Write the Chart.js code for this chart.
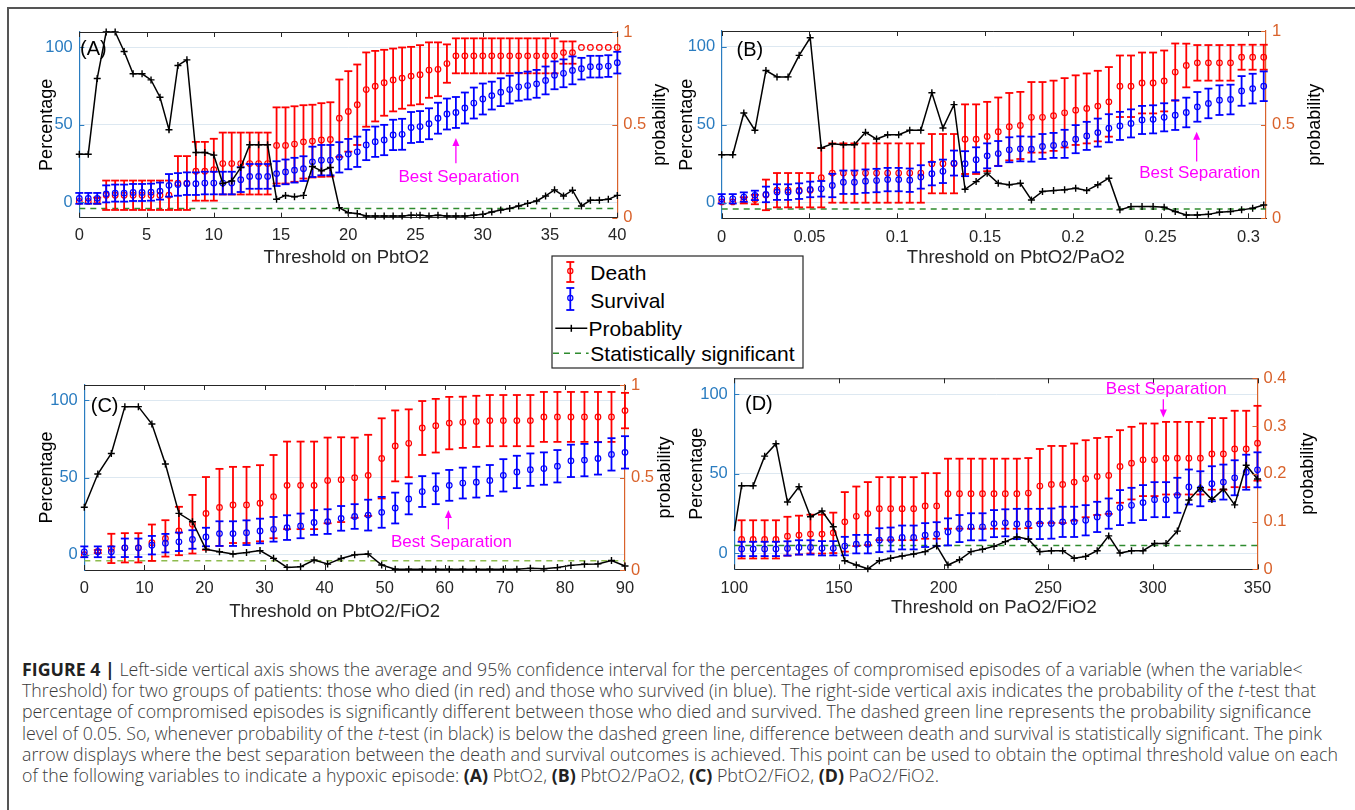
<!DOCTYPE html>
<html>
<head>
<meta charset="utf-8">
<title>Figure 4</title>
<script src="https://cdn.jsdelivr.net/npm/chart.js@4.4.1/dist/chart.umd.min.js"></script>
<style>
  html, body { margin: 0; padding: 0; background: #fff; }
  body { width: 1355px; height: 810px; position: relative; overflow: hidden; }
  canvas { position: absolute; }
  #frameTop { position: absolute; left: 7px; top: 7px; width: 1348px; height: 2px; background: #555; }
  #frameLeft { position: absolute; left: 7px; top: 7px; width: 2px; height: 803px; background: #555; }
  #legend { position: absolute; left: 550.7px; top: 255px; z-index: 5; }
  #caption { position: absolute; left: 22px; top: 659px; font-family: "Open Sans", sans-serif; font-weight: 300; font-size: 15px;
             line-height: 21.2px; color: #3a3a3a; white-space: nowrap; }
  #caption b { color: #222; font-weight: 700; }
</style>
</head>
<body>
<div id="frameTop"></div>
<div id="frameLeft"></div>

<canvas id="chartA" width="670" height="265" style="left:10px;top:10px"></canvas>
<canvas id="chartB" width="695" height="265" style="left:660px;top:10px"></canvas>
<canvas id="chartC" width="670" height="285" style="left:10px;top:340px"></canvas>
<canvas id="chartD" width="695" height="285" style="left:660px;top:340px"></canvas>

<svg id="legend" width="254" height="115">
  <rect x="1" y="1" width="251" height="112" fill="#fff" stroke="#262626" stroke-width="1.2"/>
  <g stroke="#ff0000" stroke-width="1.8" fill="none">
    <line x1="19.3" y1="7" x2="19.3" y2="27"/><line x1="15.3" y1="7" x2="23.3" y2="7"/><line x1="15.3" y1="27" x2="23.3" y2="27"/>
    <circle cx="19.3" cy="16" r="2.6" stroke-width="1.2"/>
  </g>
  <g stroke="#0000ff" stroke-width="1.8" fill="none">
    <line x1="19.3" y1="33" x2="19.3" y2="55"/><line x1="15.3" y1="33" x2="23.3" y2="33"/><line x1="15.3" y1="55" x2="23.3" y2="55"/>
    <circle cx="19.3" cy="43" r="2.6" stroke-width="1.2"/>
  </g>
  <g stroke="#000" stroke-width="1.5">
    <line x1="4.3" y1="73.3" x2="36.3" y2="73.3"/><line x1="20.3" y1="69.8" x2="20.3" y2="76.8"/>
  </g>
  <line x1="2" y1="98.3" x2="37.6" y2="98.3" stroke="#2e8b2e" stroke-width="1.5" stroke-dasharray="6,5"/>
  <g font-family="Liberation Sans, Arial, sans-serif" font-size="21" fill="#000">
    <text x="39.3" y="25.4">Death</text>
    <text x="39.3" y="53">Survival</text>
    <text x="37.6" y="80.7">Probablity</text>
    <text x="39.3" y="105.6">Statistically significant</text>
  </g>
</svg>

<div id="caption">
<span><b>FIGURE 4 |</b> Left-side vertical axis shows the average and 95% confidence interval for the percentages of compromised episodes of a variable (when the variable&lt;</span><br>
<span>Threshold) for two groups of patients: those who died (in red) and those who survived (in blue). The right-side vertical axis indicates the probability of the <i>t</i>-test that</span><br>
<span>percentage of compromised episodes is significantly different between those who died and survived. The dashed green line represents the probability significance</span><br>
<span>level of 0.05. So, whenever probability of the <i>t</i>-test (in black) is below the dashed green line, difference between death and survival is statistically significant. The pink</span><br>
<span id="capLine5">arrow displays where the best separation between the death and survival outcomes is achieved. This point can be used to obtain the optimal threshold value on each</span><br>
<span>of the following variables to indicate a hypoxic episode: <b>(A)</b> PbtO2, <b>(B)</b> PbtO2/PaO2, <b>(C)</b> PbtO2/FiO2, <b>(D)</b> PaO2/FiO2.</span>
</div>

<script>
/* DATA */
const sigLevel = 0.05;
const bestLabel = 'Best Separation';

// (A) threshold on PbtO2
const aX = [0,0.667,1.333,2,2.667,3.333,4,4.667,5.333,6,6.667,7.333,8,8.667,9.333,10,10.667,11.333,12,12.667,13.333,14,14.667,15.333,16,16.667,17.333,18,18.667,19.333,20,20.667,21.333,22,22.667,23.333,24,24.667,25.333,26,26.667,27.333,28,28.667,29.333,30,30.667,31.333,32,32.667,33.333,34,34.667,35.333,36,36.667,37.333,38,38.667,39.333,40];
const aDeath = [0.5,0.5,1,4.5,4.5,4.5,4.5,4.5,4.5,4.5,4.5,12.4,12.4,20,20,21,25,25,25,25,25,25,36.7,36.7,37.6,39,39.5,40.2,40.6,54.3,58.7,63,72.8,75,77.2,79,80.2,81.5,82.4,85.4,85.9,89.6,94.6,94.6,94.6,94.6,94.6,94.6,94.6,94.6,94.6,94.6,94.6,94.6,96.7,96.7,100,100,100,100,100];
const aDeathErr = [0,0,2,9.5,9.5,9.5,9.5,9.5,9.5,9.5,9.5,17.4,17.4,19,19,20,20,20,20,20,20,20,24.6,24.6,24.4,23.7,23.5,23.8,24,25,26,26,24,22.8,21.3,20.3,19.8,18.9,19.1,17.9,17.4,12.4,11.3,11.3,11.3,11.3,11.3,11.3,11.3,11.3,11.3,11.3,11.3,11.3,7.2,7.2,0,0,0,0,0];
const aSurv = [2.5,2.5,2.5,5.4,5.9,5.9,6.3,6.3,6.5,7.2,10.9,11.5,12,12,12.4,12.4,12.4,12.4,14.6,16.7,16.7,16.7,18.5,19.6,20.7,21.7,26.1,27.2,27.2,29,31.1,32.6,37,39.1,40.2,43.5,43.9,48.3,48.9,50.7,54.3,57,58,60.9,64.1,66.7,68.9,71.1,72.8,74.6,75.4,76.5,78.7,82,83.3,85.2,86.3,87.6,87.6,88,90.2];
const aSurvErr = [3.5,3.5,3.5,5.5,5.5,5.5,5.5,5.5,5.5,5.5,7.3,7.3,7.3,7.3,7.3,7.3,7.3,7.3,8,8,8,8,8,8,8,8,9.8,9.8,9.8,9.8,9.8,9.8,9.8,9.8,9.8,9.8,10,10,10,10,10,10,10,10,10,10,9,9,9,9,9,9,9,9,9,9,7,7,7,7,7];
const aProb = [0.342,0.342,0.75,1,1,0.895,0.775,0.775,0.742,0.649,0.474,0.82,0.85,0.351,0.351,0.337,0.184,0.198,0.27,0.393,0.393,0.393,0.099,0.12,0.113,0.12,0.276,0.252,0.27,0.054,0.027,0.022,0.009,0.009,0.009,0.009,0.009,0.013,0.013,0.009,0.013,0.009,0.009,0.009,0.013,0.018,0.031,0.041,0.05,0.063,0.077,0.09,0.117,0.15,0.117,0.148,0.063,0.094,0.094,0.099,0.12];

// (B) threshold on PbtO2/PaO2
const bX = [0,0.0063,0.0126,0.0189,0.0252,0.0315,0.0378,0.0441,0.0504,0.0567,0.063,0.0693,0.0756,0.0819,0.0882,0.0945,0.1008,0.1071,0.1134,0.1197,0.126,0.1323,0.1386,0.1449,0.1512,0.1575,0.1638,0.1701,0.1764,0.1827,0.189,0.1953,0.2016,0.2079,0.2142,0.2205,0.2268,0.2331,0.2394,0.2457,0.252,0.2583,0.2646,0.2709,0.2772,0.2835,0.2898,0.2961,0.3024,0.3087];
const bDeath = [0.5,0.5,1.5,2,5,8,8,8,8,16,19,19,19,19,19,19,19,19,19,25,25,25,40.7,40.7,42.4,45.5,48.7,49.5,54.7,54.7,55.7,57.6,59.3,60.4,61.9,64.6,74.6,74.6,76.7,76.7,78,83.7,87.9,89.6,89.6,89.6,89.6,93.2,93.2,93.2];
const bDeathErr = [0,0,2,3,9.8,11,11,11,11,19,19,19,19,19,19,19,19,19,19,19,19,19,22.3,22.3,22.2,21.9,21.6,21.5,22.6,22.6,22.5,22.2,22.3,22.4,22.6,22.3,19.7,19.7,19.5,19.5,19.5,18.3,14,11.4,11.4,11.4,11.4,8,8,8];
const bSurv = [2.5,2.5,3.6,4.7,5.3,6.8,6.8,7.4,8.5,8.9,11,13.1,13.1,13.8,14.2,14.8,14.8,14.4,16.5,18.6,20.1,25.4,25,27.5,30,31.5,33.9,34.5,34.3,36,36.7,37.7,40.7,42.8,44.9,47.7,49.2,50.8,53,53.4,54.7,56.1,57.8,61.4,63.6,65.7,66.1,71.6,73.1,74.6];
const bSurvErr = [3,3,3,3,5,5,5,5,5,5,7.5,7.5,7.5,7.5,7.5,7.5,7.5,7.5,7.5,7.5,7.5,8,8,8,8,8,8,8,8,8,8,9,9,9,9,9,9,9,9,9,9,9.5,9.5,9.5,9.5,9.5,9.5,9.5,9.5,9.5];
const bProb = [0.339,0.339,0.5625,0.47,0.789,0.755,0.755,0.87,0.964,0.375,0.398,0.393,0.393,0.459,0.423,0.446,0.446,0.47,0.47,0.67,0.482,0.607,0.155,0.196,0.241,0.1875,0.179,0.187,0.098,0.143,0.148,0.152,0.161,0.148,0.179,0.214,0.045,0.0625,0.0625,0.0625,0.059,0.036,0.018,0.018,0.021,0.032,0.036,0.045,0.054,0.071];

// (C) threshold on PbtO2/FiO2
const cX = [0,2.25,4.5,6.75,9,11.25,13.5,15.75,18,20.25,22.5,24.75,27,29.25,31.5,33.75,36,38.25,40.5,42.75,45,47.25,49.5,51.75,54,56.25,58.5,60.75,63,65.25,67.5,69.75,72,74.25,76.5,78.75,81,83.25,85.5,87.75,90];
const cDeath = [0,2,4,4.4,4.4,7.7,10.5,15.3,19.7,26.7,30.6,32.2,32.2,33.3,37.6,44.9,44.9,44.9,48.1,48.6,49.9,51.4,62.4,70.5,72.2,82.1,83.6,85.3,85.8,86.4,86.9,86.9,86.9,86.9,89.3,89.3,89.3,89.3,89.3,89.3,93.4];
const cDeathErr = [0,1,9.5,9.5,9.5,11.8,11.8,15.7,19,23.6,25,24.7,24.7,24.7,27,28.4,28.4,28.4,27.8,27.5,26,26.3,26,23,22,17.5,17.4,17,16.6,16.6,16.6,16.6,16.6,16.6,16.2,16.2,16.2,16.2,16.2,16.2,11.5];
const cSurv = [1.8,1.8,1.8,4.4,4.4,6.1,7.4,8.3,9.8,11.4,13.6,13.6,14.2,15.3,16.4,17.5,18.6,20.8,21.4,23.5,24.7,25.6,27.4,30.2,36.1,40.9,42.7,44.9,46.4,47,48.1,51.4,53.6,55.1,55.8,57.3,60.8,61.3,62.4,65,66.3];
const cSurvErr = [3.5,3.5,3.5,6,6,6,6,6,6,6,8,8,8,8,8,8,8,8,8,8,8,10,10,10,10,10,10,10,10,10,10,10.5,10.5,10.5,10.5,10.5,10.5,10.5,10.5,10.5,10.5];
const cProb = [0.339,0.519,0.63,0.883,0.883,0.789,0.573,0.306,0.261,0.112,0.099,0.086,0.094,0.105,0.063,0.014,0.018,0.054,0.032,0.062,0.082,0.087,0.027,0.004,0.004,0.004,0.004,0.004,0.004,0.004,0.004,0.004,0.004,0.009,0.007,0.013,0.025,0.031,0.033,0.051,0.022];

// (D) threshold on PaO2/FiO2
const dX = [103.5,109,114.5,119.9,125.4,130.9,136.4,141.9,147.3,152.8,158.3,163.8,169.3,174.7,180.2,185.7,191.2,196.7,202.1,207.6,213.1,218.6,224.1,229.5,235,240.5,246,251.5,256.9,262.4,267.9,273.4,278.9,284.3,289.8,295.3,300.8,306.3,311.7,317.2,322.7,328.2,333.7,339.1,344.6,350];
const dDeath = [8.8,8.8,8.8,8.8,10.8,11.5,12.1,12.1,12.9,19.8,23.3,25,28.1,28.1,28.1,28.1,29.8,29.8,37.5,37.5,37.5,37.5,37.5,37.5,37.5,37.9,42.3,43.3,43.3,44.8,46.9,48.3,49,54.6,56.7,58.8,58.8,59.8,59.8,59.8,59.8,62.5,62.5,65.6,65.6,69.2];
const dDeathErr = [12,12,12,12,12.2,12.2,12.2,12.2,12.7,18.7,18.7,19.8,19.8,19.8,19.8,19.8,20.6,20.6,22,22,22,22,22,22,22,22,23.3,24.2,24.2,24.2,24.2,24.2,24.2,22.8,22.8,22.8,22.8,22.8,22.8,22.8,22.8,22.5,22.5,24,24,23.5];
const dSurv = [2.8,2.8,2.8,2.8,3.1,3.75,3.75,3.2,3.2,4.6,5.8,5.8,8.3,8.75,10,10,11.5,12.1,13.5,15.6,16.7,16.7,18.7,19.2,18.5,18.5,18.5,18.75,19.8,19.8,20.8,22.9,25,28.75,30.2,31.9,33.75,33.75,36.5,41.7,40.6,43.75,44.8,47.5,51,52.5];
const dSurvErr = [4.5,4.5,4.5,4.5,4.5,4.5,4.5,4.5,4.5,5.8,5.8,5.8,7.5,7.5,7.5,7.5,7.5,7.5,8.5,8.5,8.5,8.5,8.5,8.5,9.5,9.5,9.5,9.5,9.5,9.5,9.5,9.5,9.5,11,11,11,11,11,11,11,11,11,11,11,11,11];
const dProb = [0.175,0.175,0.237,0.263,0.141,0.173,0.11,0.122,0.089,0.018,0.009,0.001,0.018,0.023,0.028,0.032,0.037,0.049,0.009,0.02,0.037,0.042,0.048,0.058,0.068,0.063,0.037,0.039,0.039,0.023,0.027,0.039,0.07,0.034,0.039,0.039,0.054,0.054,0.08,0.145,0.171,0.146,0.168,0.135,0.218,0.189];
const dProbStart = [100, 0.08]; // line enters from the left edge, no marker

/* STYLE */
const FONT = '"Liberation Sans", Arial, sans-serif';
const LEFT_COLOR = '#2a7cc0';
const RIGHT_COLOR = '#d9622b';
const AXIS_COLOR = '#262626';
const GRID_COLOR = '#dde8f1';
const RED = '#ff0000';
const BLUE = '#0000ff';
const MAGENTA = '#ff00ff';

Chart.defaults.font.family = FONT;

const plainTick = v => String(Math.round(v * 1000) / 1000);

function line(ctx, x1, y1, x2, y2) {
  ctx.beginPath();
  ctx.moveTo(x1, y1);
  ctx.lineTo(x2, y2);
  ctx.stroke();
}

/* PLUGIN: error bars, box, inner ticks, labels */
const extras = {
  id: 'extras',
  beforeDatasetDraw(chart, args) {
    const ds = chart.data.datasets[args.index];
    if (!ds.errors) return;
    const ctx = chart.ctx;
    const xs = chart.scales.x;
    const ys = chart.scales[ds.yAxisID];
    ctx.save();
    ctx.strokeStyle = ds.borderColor;
    ctx.lineWidth = 1.8;
    ds.data.forEach((p, j) => {
      const e = ds.errors[j];
      if (!e) return;
      const px = xs.getPixelForValue(p.x);
      const top = ys.getPixelForValue(p.y + e);
      const bot = ys.getPixelForValue(p.y - e);
      line(ctx, px, top, px, bot);
      line(ctx, px - 4, top, px + 4, top);
      line(ctx, px - 4, bot, px + 4, bot);
    });
    ctx.restore();
  },
  afterDraw(chart, args, opts) {
    const { ctx, chartArea: a, scales } = chart;
    ctx.save();
    ctx.lineWidth = 1;

    // top of the box and inner ticks
    ctx.strokeStyle = AXIS_COLOR;
    line(ctx, a.left, a.top + 0.5, a.right, a.top + 0.5);
    scales.x.ticks.forEach(t => {
      const px = Math.round(scales.x.getPixelForValue(t.value)) + 0.5;
      line(ctx, px, a.bottom, px, a.bottom - 5);
      line(ctx, px, a.top, px, a.top + 5);
    });
    ctx.strokeStyle = LEFT_COLOR;
    scales.y.ticks.forEach(t => {
      const py = Math.round(scales.y.getPixelForValue(t.value)) + 0.5;
      line(ctx, a.left, py, a.left + 5, py);
    });
    ctx.strokeStyle = RIGHT_COLOR;
    scales.y2.ticks.forEach(t => {
      const py = Math.round(scales.y2.getPixelForValue(t.value)) + 0.5;
      line(ctx, a.right, py, a.right - 5, py);
    });

    // panel letter
    ctx.fillStyle = '#000';
    ctx.font = '20px ' + FONT;
    ctx.textAlign = 'left';
    ctx.textBaseline = 'middle';
    ctx.fillText(opts.letter.text, scales.x.getPixelForValue(opts.letter.x), scales.y.getPixelForValue(opts.letter.y));

    // best separation arrow
    const b = opts.best;
    const ax = scales.x.getPixelForValue(b.x);
    const hy = scales.y.getPixelForValue(b.head);
    const ty = scales.y.getPixelForValue(b.tail);
    const dir = hy < ty ? 1 : -1;
    ctx.strokeStyle = MAGENTA;
    ctx.fillStyle = MAGENTA;
    ctx.lineWidth = 1.3;
    line(ctx, ax, ty, ax, hy + dir * 4);
    ctx.beginPath();
    ctx.moveTo(ax, hy);
    ctx.lineTo(ax - 3.5, hy + dir * 8);
    ctx.lineTo(ax + 3.5, hy + dir * 8);
    ctx.closePath();
    ctx.fill();
    ctx.font = '17px ' + FONT;
    ctx.textAlign = 'center';
    ctx.fillText(bestLabel, ax + 3, scales.y.getPixelForValue(b.text));

    // x axis title
    ctx.fillStyle = AXIS_COLOR;
    ctx.font = '18.5px ' + FONT;
    ctx.fillText(opts.xTitle, (a.left + a.right) / 2 + opts.xTitleDx, a.bottom + opts.xTitleDy);

    // right axis title, read bottom to top like the left one
    ctx.fillStyle = '#000';
    ctx.font = '18px ' + FONT;
    ctx.translate(a.right + opts.y2TitleDx, (a.top + a.bottom) / 2);
    ctx.rotate(-Math.PI / 2);
    ctx.fillText('probability', 0, 0);
    ctx.restore();
  }
};

function makePanel(p) {
  const pts = ys => p.x.map((x, i) => ({ x, y: ys[i] }));
  const probPts = p.probStart ? [{ x: p.probStart[0], y: p.probStart[1] }].concat(pts(p.prob)) : pts(p.prob);
  return new Chart(document.getElementById(p.id), {
    type: 'line',
    data: {
      datasets: [
        {
          data: probPts, yAxisID: 'y2', borderColor: '#000', borderWidth: 1.5,
          pointStyle: 'cross', pointBorderWidth: 1.4, pointBorderColor: '#000',
          pointRadius: c => (p.probStart && c.dataIndex === 0) ? 0 : 3.5,
          tension: 0, clip: false
        },
        {
          data: pts(p.surv), errors: p.survErr, yAxisID: 'y', showLine: false,
          borderColor: BLUE, pointBorderColor: BLUE, pointBackgroundColor: 'rgba(0,0,0,0)',
          pointRadius: 2.8, pointBorderWidth: 1.2, clip: false
        },
        {
          data: pts(p.death), errors: p.deathErr, yAxisID: 'y', showLine: false,
          borderColor: RED, pointBorderColor: RED, pointBackgroundColor: 'rgba(0,0,0,0)',
          pointRadius: 2.8, pointBorderWidth: 1.2, clip: false
        },
        {
          data: [{ x: p.xMin, y: sigLevel }, { x: p.xMax, y: sigLevel }], yAxisID: 'y2',
          borderColor: p.sigColor, borderWidth: 1.5, borderDash: [6, 5], pointRadius: 0
        }
      ]
    },
    options: {
      responsive: false,
      animation: false,
      devicePixelRatio: 1,
      layout: { padding: { top: p.padTop, left: 0, right: 0, bottom: 0 } },
      plugins: {
        legend: { display: false },
        tooltip: { enabled: false },
        extras: { letter: p.letter, best: p.best, xTitle: p.xTitle, xTitleDx: p.xTitleDx, xTitleDy: p.xTitleDy, y2TitleDx: p.y2TitleDx }
      },
      scales: {
        x: {
          type: 'linear', min: p.xMin, max: p.xMax,
          ticks: { stepSize: p.xStep, includeBounds: false, padding: p.xTickPad, color: AXIS_COLOR, font: { size: 16.5 }, maxRotation: 0, autoSkip: false, callback: plainTick },
          grid: { display: false, drawTicks: false },
          border: { color: AXIS_COLOR, width: 1 },
          afterFit: s => { s.height = p.xHeight; }
        },
        y: {
          position: 'left', min: -10, max: 110,
          ticks: { stepSize: 50, includeBounds: false, padding: 6.5, color: LEFT_COLOR, font: { size: 16.5 }, callback: plainTick },
          grid: { color: GRID_COLOR, drawTicks: false, lineWidth: 1 },
          border: { color: LEFT_COLOR, width: 1.2 },
          title: { display: true, text: 'Percentage', color: '#000', font: { size: 18 }, padding: { top: p.yTitlePad, bottom: 0 } },
          afterFit: s => { s.width = p.yWidth; }
        },
        y2: {
          position: 'right', min: 0, max: p.y2Max,
          ticks: { stepSize: p.y2Step, padding: 6, color: RIGHT_COLOR, font: { size: 16.5 }, callback: plainTick },
          grid: { display: false, drawTicks: false },
          border: { color: RIGHT_COLOR, width: 1.2 },
          afterFit: s => { s.width = p.y2Width; }
        }
      }
    },
    plugins: [extras]
  });
}

/* PANELS */
makePanel({
  id: 'chartA', x: aX, death: aDeath, deathErr: aDeathErr, surv: aSurv, survErr: aSurvErr, prob: aProb,
  xMin: 0, xMax: 40, xStep: 5, y2Max: 1, y2Step: 0.5, sigColor: '#2e8b2e',
  padTop: 22, yWidth: 69.3, y2Width: 62.7, xHeight: 57.3, xTickPad: 7.4, yTitlePad: 25.9, y2TitleDx: 42.7,
  xTitle: 'Threshold on PbtO2', xTitleDx: -2, xTitleDy: 40.6,
  letter: { text: '(A)', x: 0.05, y: 99 },
  best: { x: 28, head: 41.5, tail: 25.2, text: 16.1 }
});

makePanel({
  id: 'chartB', x: bX, death: bDeath, deathErr: bDeathErr, surv: bSurv, survErr: bSurvErr, prob: bProb,
  xMin: 0, xMax: 0.31, xStep: 0.05, y2Max: 1, y2Step: 0.5, sigColor: '#2e8b2e',
  padTop: 21, yWidth: 61.7, y2Width: 89, xHeight: 56.7, xTickPad: 9, yTitlePad: 15.9, y2TitleDx: 49,
  xTitle: 'Threshold on PbtO2/PaO2', xTitleDx: 22, xTitleDy: 40,
  letter: { text: '(B)', x: 0.0085, y: 97.5 },
  best: { x: 0.2705, head: 45.5, tail: 26.4, text: 18.6 }
});

makePanel({
  id: 'chartC', x: cX, death: cDeath, deathErr: cDeathErr, surv: cSurv, survErr: cSurvErr, prob: cProb,
  xMin: 0, xMax: 90, xStep: 10, y2Max: 1, y2Step: 0.5, sigColor: '#8dbb4e',
  padTop: 45, yWidth: 74.3, y2Width: 55, xHeight: 55, xTickPad: 8.4, yTitlePad: 25.9, y2TitleDx: 40,
  xTitle: 'Threshold on PbtO2/FiO2', xTitleDx: -20, xTitleDy: 41.7,
  letter: { text: '(C)', x: 1.07, y: 96.3 },
  best: { x: 60.6, head: 28.9, tail: 16.4, text: 7.7 }
});

makePanel({
  id: 'chartD', x: dX, death: dDeath, deathErr: dDeathErr, surv: dSurv, survErr: dSurvErr, prob: dProb, probStart: dProbStart,
  xMin: 100, xMax: 350, xStep: 50, y2Max: 0.4, y2Step: 0.1, sigColor: '#2e8b2e',
  padTop: 38.3, yWidth: 74.3, y2Width: 97.5, xHeight: 55.7, xTickPad: 9.1, yTitlePad: 25.9, y2TitleDx: 50.8,
  xTitle: 'Threshold on PaO2/FiO2', xTitleDx: -2, xTitleDy: 39,
  letter: { text: '(D)', x: 105.1, y: 93.8 },
  best: { x: 305, head: 85.4, tail: 96.9, text: 103 }
});

/* CAPTION: fit the longest line to the printed width */
const cap = document.getElementById('caption');
const refLine = document.getElementById('capLine5');
const refWidth = refLine.getBoundingClientRect().width;
cap.style.fontSize = (15 * 1317 / refWidth).toFixed(2) + 'px';
</script>
</body>
</html>
